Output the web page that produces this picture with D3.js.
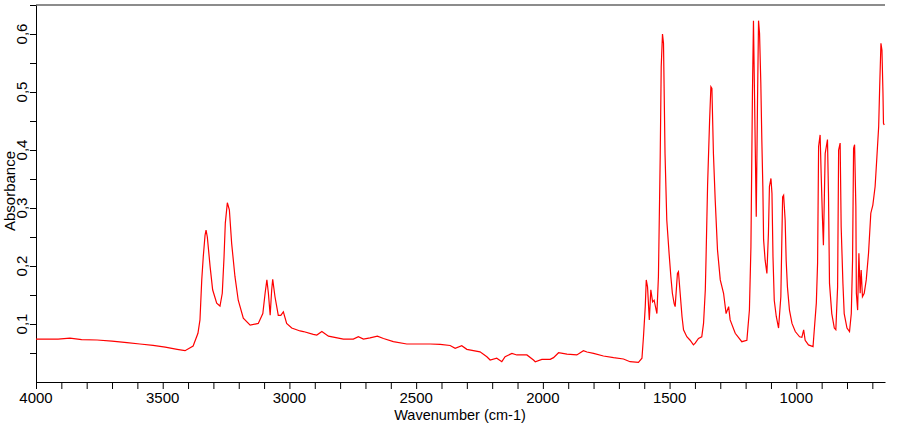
<!DOCTYPE html>
<html>
<head>
<meta charset="utf-8">
<script src="https://cdn.jsdelivr.net/npm/d3@7"></script>
<style>
  body { margin: 0; background: #fff; }
  svg { display: block; font-family: "Liberation Sans", Arial, sans-serif; }
</style>
</head>
<body>
<svg id="spectrum" width="900" height="425"></svg>
<script>
// wavenumbers (cm-1)
var wavenumber = [4000, 3913, 3866, 3820, 3759, 3700, 3641, 3590, 3538, 3490, 3443, 3412, 3380, 3361, 3353, 3346, 3340, 3333, 3329, 3324,
    3313, 3303, 3287, 3274, 3265, 3258, 3253, 3245, 3237, 3228, 3215, 3202, 3182, 3155, 3123, 3105, 3096, 3089, 3083, 3076,
    3070, 3066, 3057, 3044, 3034, 3024, 3011, 2991, 2958, 2945, 2906, 2892, 2872, 2846, 2787, 2748, 2728, 2708, 2682, 2653,
    2629, 2590, 2537, 2484, 2445, 2405, 2366, 2346, 2320, 2300, 2248, 2221, 2208, 2182, 2162, 2149, 2122, 2103, 2063, 2037,
    2030, 2004, 1971, 1958, 1938, 1905, 1866, 1840, 1826, 1800, 1761, 1721, 1682, 1656, 1623, 1609, 1603, 1596, 1592, 1587,
    1580, 1574, 1567, 1561, 1550, 1544, 1537, 1533, 1528, 1524, 1518, 1511, 1502, 1495, 1489, 1482, 1478, 1469, 1465, 1451,
    1445, 1432, 1419, 1406, 1399, 1386, 1373, 1366, 1359, 1356, 1350, 1342, 1337, 1333, 1327, 1320, 1311, 1300, 1287, 1277,
    1267, 1261, 1241, 1215, 1195, 1185, 1179, 1173, 1169, 1162, 1158, 1153, 1149, 1145, 1140, 1136, 1132, 1129, 1123, 1116,
    1110, 1106, 1100, 1096, 1092, 1087, 1079, 1070, 1061, 1054, 1050, 1044, 1040, 1035, 1027, 1017, 1004, 987, 978, 971,
    965, 952, 934, 929, 921, 916, 912, 906, 902, 897, 893, 886, 877, 873, 869, 860, 850, 844, 837, 833,
    827, 823, 816, 811, 800, 790, 783, 778, 774, 770, 765, 763, 758, 753, 748, 744, 739, 732, 724, 715,
    706, 698, 689, 682, 675, 671, 666, 662, 658, 656, 653];

// absorbance at each wavenumber
var absorbance = [0.074, 0.074, 0.0755, 0.073, 0.0724, 0.0705, 0.0678, 0.0655, 0.0632, 0.060, 0.0563, 0.054, 0.062, 0.084, 0.107, 0.176, 0.216, 0.253, 0.262, 0.250,
    0.199, 0.159, 0.136, 0.131, 0.153, 0.216, 0.274, 0.309, 0.297, 0.239, 0.182, 0.141, 0.110, 0.098, 0.101, 0.118, 0.153, 0.176, 0.153, 0.115,
    0.159, 0.177, 0.147, 0.115, 0.115, 0.121, 0.101, 0.093, 0.088, 0.087, 0.082, 0.081, 0.087, 0.079, 0.074, 0.074, 0.078, 0.074, 0.076, 0.079,
    0.075, 0.0695, 0.0655, 0.0655, 0.0655, 0.065, 0.063, 0.058, 0.0626, 0.0563, 0.052, 0.0436, 0.038, 0.041, 0.035, 0.0436, 0.0494, 0.0466, 0.0466, 0.038,
    0.035, 0.039, 0.039, 0.042, 0.0505, 0.048, 0.0466, 0.054, 0.0517, 0.0494, 0.0448, 0.042, 0.0397, 0.035, 0.034, 0.041, 0.078, 0.13, 0.176, 0.164,
    0.107, 0.159, 0.138, 0.141, 0.118, 0.182, 0.388, 0.544, 0.600, 0.584, 0.394, 0.279, 0.222, 0.182, 0.153, 0.135, 0.13, 0.187, 0.19, 0.113,
    0.09, 0.078, 0.072, 0.064, 0.067, 0.075, 0.078, 0.101, 0.159, 0.216, 0.34, 0.452, 0.509, 0.506, 0.394, 0.314, 0.228, 0.176, 0.153, 0.118,
    0.13, 0.107, 0.084, 0.0695, 0.072, 0.124, 0.233, 0.50, 0.623, 0.406, 0.285, 0.486, 0.623, 0.601, 0.515, 0.417, 0.337, 0.245, 0.21, 0.187,
    0.256, 0.337, 0.351, 0.325, 0.216, 0.141, 0.113, 0.093, 0.147, 0.319, 0.322, 0.279, 0.21, 0.164, 0.124, 0.101, 0.087, 0.078, 0.077, 0.09,
    0.072, 0.064, 0.061, 0.09, 0.136, 0.205, 0.406, 0.426, 0.36, 0.285, 0.236, 0.394, 0.418, 0.325, 0.17, 0.118, 0.093, 0.09, 0.164, 0.40,
    0.412, 0.268, 0.17, 0.118, 0.093, 0.087, 0.118, 0.21, 0.403, 0.409, 0.302, 0.153, 0.124, 0.222, 0.153, 0.193, 0.147, 0.153, 0.176, 0.222,
    0.291, 0.305, 0.337, 0.388, 0.44, 0.509, 0.584, 0.572, 0.498, 0.446, 0.443];

var xTicks = d3.range(700, 4001, 100);
var xLabels = [4000, 3500, 3000, 2500, 2000, 1500, 1000];
var yTicks = d3.range(1, 14).map(function(i) { return i * 0.05; });
var yLabels = [0.1, 0.2, 0.3, 0.4, 0.5, 0.6];

var svg = d3.select("#spectrum"),
    plotLeft = 36, plotRight = 885, plotTop = 5, plotBottom = 382;

var x = d3.scaleLinear().domain([4000, 650]).range([plotLeft, plotRight]);
var y = d3.scaleLinear().domain([0, 0.65]).range([plotBottom, plotTop]);

var data = wavenumber.map(function(w, i) { return [w, absorbance[i]]; });

// top frame line
svg.append("line")
    .attr("x1", plotLeft).attr("x2", plotRight)
    .attr("y1", plotTop).attr("y2", plotTop)
    .attr("stroke", "#666")
    .attr("stroke-width", 1.5);

// x axis, tick every 100, label every 500
svg.append("g")
    .attr("transform", "translate(0," + plotBottom + ")")
    .call(d3.axisBottom(x).tickValues(xTicks).tickSize(7).tickSizeOuter(0).tickFormat(""));

svg.selectAll(".xlab")
    .data(xLabels)
    .enter().append("text")
    .attr("class", "xlab")
    .attr("x", function(d) { return x(d); })
    .attr("y", 403)
    .attr("text-anchor", "middle")
    .style("font-size", "15px")
    .attr("fill", "#000")
    .text(function(d) { return d; });

svg.append("text")
    .attr("x", 460)
    .attr("y", 419.5)
    .attr("text-anchor", "middle")
    .style("font-size", "14.5px")
    .text("Wavenumber (cm-1)");

// y axis
svg.append("g")
    .attr("transform", "translate(" + plotLeft + ",0)")
    .call(d3.axisLeft(y).tickValues(yTicks).tickSize(6).tickSizeOuter(0).tickFormat(""));

svg.selectAll(".ylab")
    .data(yLabels)
    .enter().append("text")
    .attr("class", "ylab")
    .attr("transform", function(d) { return "translate(27," + y(d) + ") rotate(-90)"; })
    .attr("text-anchor", "middle")
    .style("font-size", "15px")
    .text(function(d) { return d3.format(".1f")(d).replace(".", ","); });

svg.append("text")
    .attr("transform", "translate(15,191) rotate(-90)")
    .attr("text-anchor", "middle")
    .style("font-size", "15px")
    .text("Absorbance");

svg.selectAll(".domain, .tick line").attr("stroke", "#000");

// spectrum trace
var line = d3.line()
    .x(function(d) { return x(d[0]); })
    .y(function(d) { return y(d[1]); });

svg.append("path")
    .datum(data)
    .attr("d", line)
    .attr("fill", "none")
    .attr("stroke", "#ff0000")
    .attr("stroke-width", 1.2);
</script>
</body>
</html>
